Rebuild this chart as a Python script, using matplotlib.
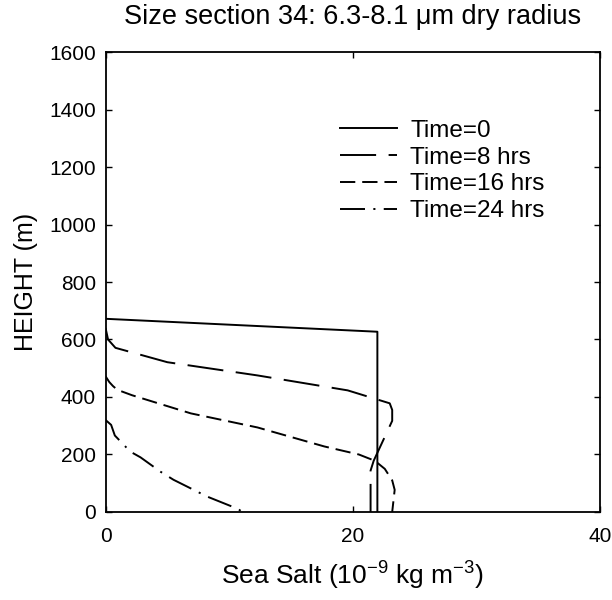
import matplotlib
matplotlib.use('Agg')
from matplotlib import pyplot as plt

plt.rcParams['font.family'] = ['Liberation Sans', 'DejaVu Sans']
plt.rcParams['mathtext.fontset'] = 'custom'
plt.rcParams['mathtext.rm'] = 'Liberation Sans'
plt.rcParams['mathtext.it'] = 'Liberation Sans'
plt.rcParams['lines.scale_dashes'] = False

# profiles: sea salt (1e-9 kg/m3) vs height (m)
t0_x = [0, 22.0, 22.0]
t0_y = [672, 627, 0]

t8_x = [0, 0.2, 0.8, 5.0, 12.3, 19.6, 23.0, 23.2, 23.2, 21.7, 21.45, 21.45]
t8_y = [640, 600, 571, 521, 475, 423, 378, 355, 317, 178, 144, 0]

t16_x = [0, 0.3, 0.6, 0.95, 2.15, 6.9, 12.3, 17.7, 20.5, 21.8, 22.6, 23.2, 23.4, 23.2]
t16_y = [472, 452, 438, 425, 406, 343, 294, 228, 200, 178, 150, 110, 77, 0]

t24_x = [0, 0.45, 0.75, 2.0, 2.83, 4.45, 5.5, 8.2, 10.75, 11.05]
t24_y = [320, 303, 266, 210, 190, 140, 112, 54, 10, 0]

labels = ['Time=0', 'Time=8 hrs', 'Time=16 hrs', 'Time=24 hrs']

fig = plt.figure(figsize=(6.12, 6.0), dpi=100)
ax = fig.add_axes([0.1725, 0.1467, 0.8075, 0.7666])

lw = 1.4
ax.plot(t0_x, t0_y, color='black', lw=lw, label=labels[0])
ax.plot(t8_x, t8_y, color='black', lw=lw, dashes=(26, 9), label=labels[1])
ax.plot(t16_x, t16_y, color='black', lw=lw, dashes=(11, 5), label=labels[2])
ax.plot(t24_x, t24_y, color='black', lw=lw, dashes=(18, 6, 1.5, 6), label=labels[3])

ax.set_xlim(0, 40)
ax.set_ylim(0, 1600)
ax.set_xticks([0, 20, 40])
ax.set_yticks(range(0, 1601, 200))
ax.tick_params(direction='in', top=True, right=True, length=4, width=1,
               labelsize=15)
ax.tick_params(axis='y', pad=7)
ax.tick_params(axis='x', pad=11)
for s in ax.spines.values():
    s.set_linewidth(1.3)

ax.set_title('Size section 34: 6.3-8.1 \u03bcm dry radius', fontsize=19.5, pad=20)
ax.set_xlabel(r'Sea Salt (10$^{-9}$ kg m$^{-3}$)', fontsize=19, labelpad=10)
ax.set_ylabel('HEIGHT (m)', fontsize=18, labelpad=8)

ax.legend(loc='upper left', bbox_to_anchor=(0.474, 0.853), frameon=False,
          fontsize=17.5, handlelength=2.35, handletextpad=0.55, labelspacing=0.2,
          borderpad=0, borderaxespad=0)

fig.savefig('out.png', dpi=100)
